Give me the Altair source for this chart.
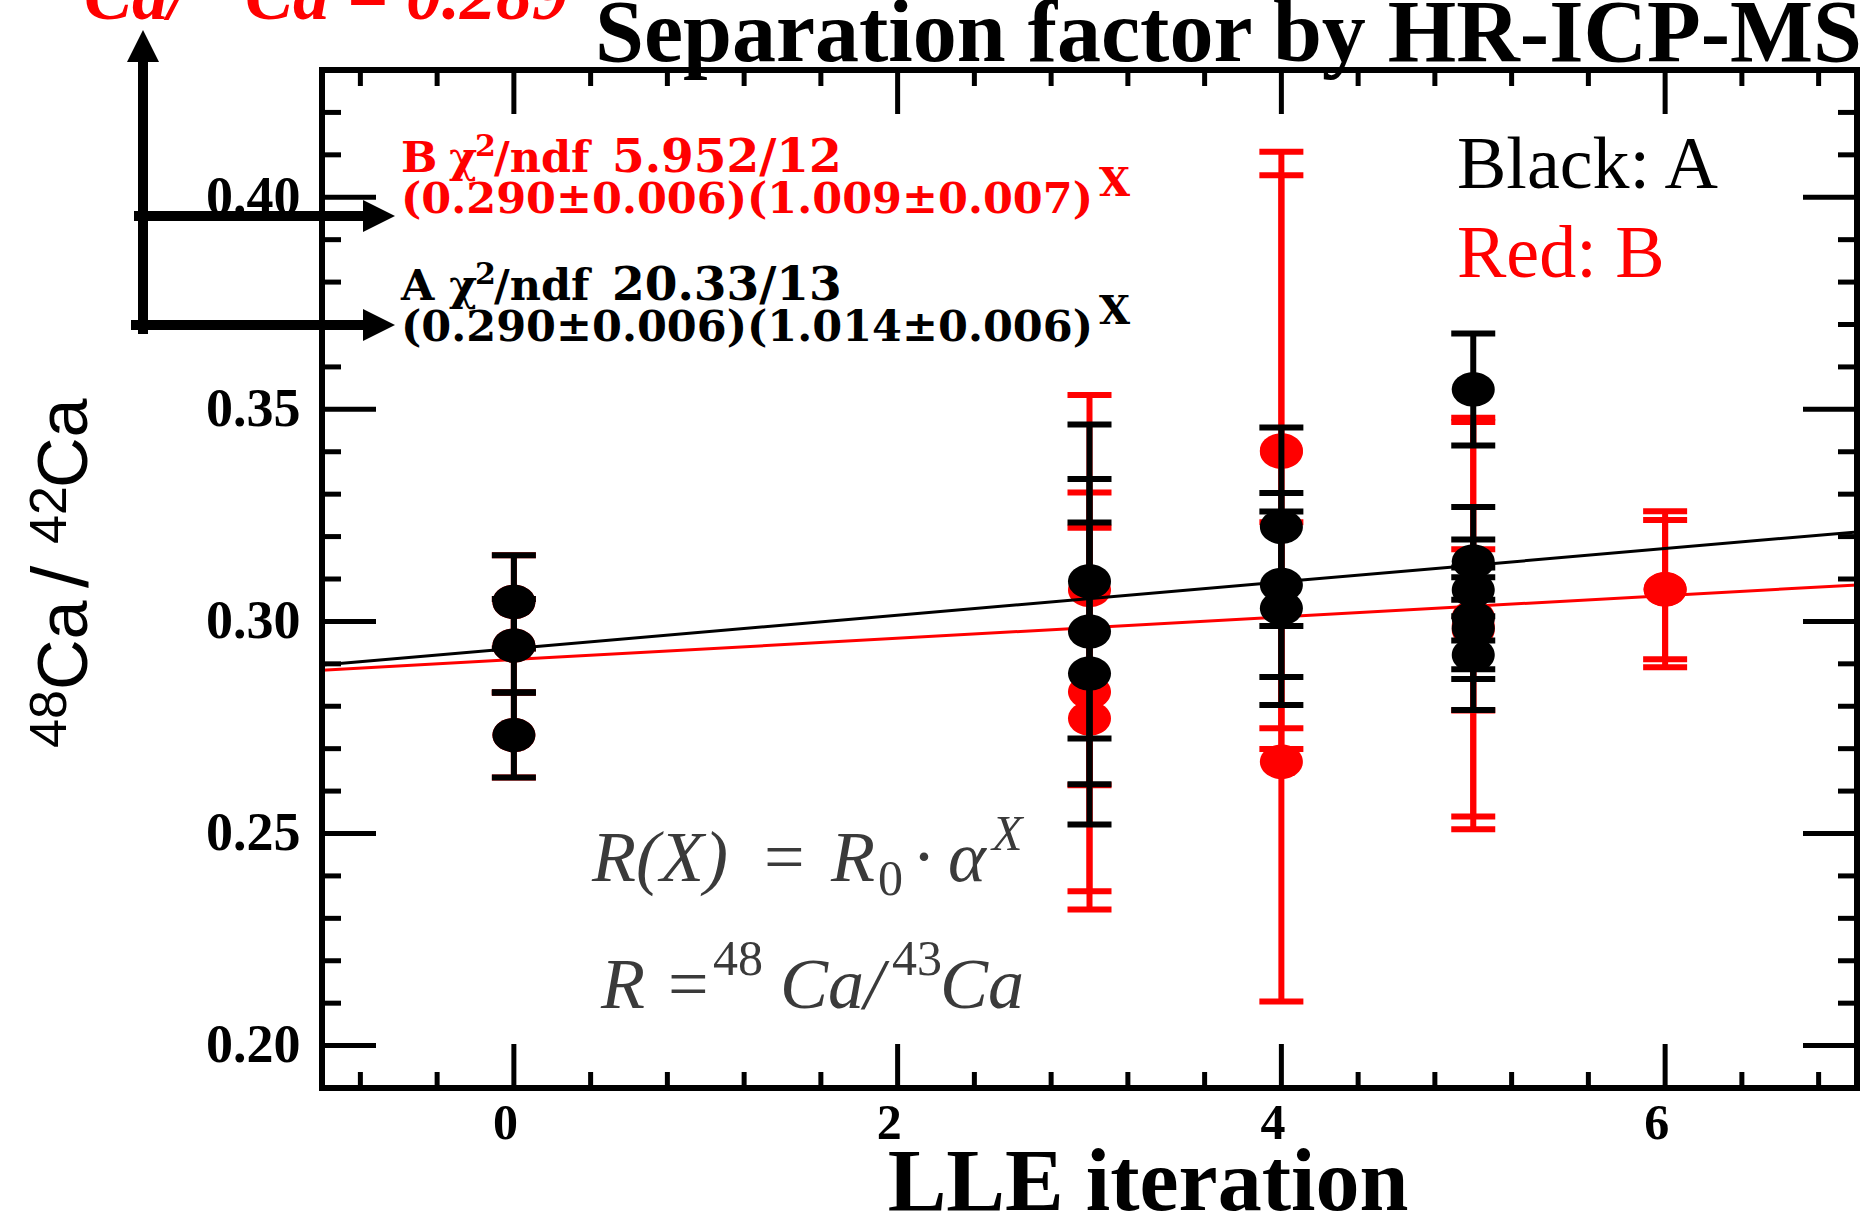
import altair as alt
import pandas as pd

# ---------------- data ----------------
# Series A (black)
a_x = [0, 0, 0, 3, 3, 3, 4, 4, 4, 5, 5, 5, 5, 5, 5]
a_y = [0.3046, 0.2943, 0.2732, 0.3094, 0.2976, 0.2877, 0.3223, 0.3086, 0.3031,
       0.3547, 0.3141, 0.3074, 0.3007, 0.2984, 0.2921]
a_err = [0.011, 0.011, 0.010, 0.037, 0.036, 0.0356, 0.0234, 0.0217, 0.0228,
         0.0132, 0.0129, 0.0119, 0.0120, 0.0120, 0.0130]

# Series B (red)
b_x = [0, 0, 0, 3, 3, 3, 4, 4, 4, 5, 5, 5, 6, 6]
b_y = [0.3046, 0.2943, 0.2732, 0.3074, 0.2834, 0.2771, 0.3403, 0.3400, 0.2669,
       0.3010, 0.2990, 0.2980, 0.3076, 0.3075]
b_err = [0.011, 0.011, 0.010, 0.046, 0.047, 0.045, 0.0704, 0.0652, 0.0565,
         0.047, 0.048, 0.019, 0.0184, 0.0164]

# fit curves (end points)
fit_x = [-1, 7]
fit_a = [0.2897, 0.3211]
fit_b = [0.2885, 0.3086]

# axis ticks
x_major = [0, 2, 4, 6]
x_minor = [-0.8, -0.4, 0.4, 0.8, 1.2, 1.6, 2.4, 2.8, 3.2, 3.6, 4.4, 4.8, 5.2, 5.6, 6.4, 6.8]
y_major = [0.20, 0.25, 0.30, 0.35, 0.40]
y_minor = [0.21, 0.22, 0.23, 0.24, 0.26, 0.27, 0.28, 0.29, 0.31, 0.32, 0.33, 0.34,
           0.36, 0.37, 0.38, 0.39, 0.41, 0.42]

# ---------------- layout ----------------
TOTAL_W, TOTAL_H = 1875, 1220
L, T, R, B = 322, 70, 1857, 1088
W, H = R - L, B - T

xs = alt.Scale(domain=[-1, 7], nice=False, zero=False)
ys = alt.Scale(domain=[0.19, 0.43], nice=False, zero=False)
xaxis = alt.Axis(values=x_major, title=None, domain=False, ticks=False, tickSize=0, grid=False,
                 labelFont="Liberation Serif", labelFontWeight="bold", labelFontSize=50,
                 labelColor="black", labelPadding=10, labelOffset=-9)
yaxis = alt.Axis(values=y_major, title=None, domain=False, ticks=False, tickSize=0, grid=False,
                 format=".2f", labelFont="Liberation Serif", labelFontWeight="bold",
                 labelFontSize=54, labelColor="black", labelPadding=22)


def X(field="x"):
    return alt.X(f"{field}:Q", scale=xs, axis=xaxis)


def Y(field="y"):
    return alt.Y(f"{field}:Q", scale=ys, axis=yaxis)


dfA = pd.DataFrame({"x": a_x, "y": a_y, "err": a_err})
dfA["lo"] = dfA["y"] - dfA["err"]
dfA["hi"] = dfA["y"] + dfA["err"]
dfB = pd.DataFrame({"x": b_x, "y": b_y, "err": b_err})
dfB["lo"] = dfB["y"] - dfB["err"]
dfB["hi"] = dfB["y"] + dfB["err"]
fitA = pd.DataFrame({"x": fit_x, "y": fit_a})
fitB = pd.DataFrame({"x": fit_x, "y": fit_b})

ELLIPSE = "M-1,0A1,0.8,0,1,0,1,0A1,0.8,0,1,0,-1,0Z"


def series(df, fit, color):
    bars = alt.Chart(df).mark_rule(color=color, strokeWidth=6).encode(x=X(), y=Y("lo"), y2="hi:Q")
    cap_hi = alt.Chart(df).mark_rule(color=color, strokeWidth=6, xOffset=-22, x2Offset=22).encode(
        x=X(), x2="x:Q", y=Y("hi"))
    cap_lo = alt.Chart(df).mark_rule(color=color, strokeWidth=6, xOffset=-22, x2Offset=22).encode(
        x=X(), x2="x:Q", y=Y("lo"))
    pts = alt.Chart(df).mark_point(shape=ELLIPSE, filled=True, size=1849, color=color,
                                   opacity=1).encode(x=X(), y=Y())
    line = alt.Chart(fit).mark_line(color=color, strokeWidth=3).encode(x=X(), y=Y())
    return [bars, cap_hi, cap_lo, line, pts]


# ---------------- frame & ticks ----------------
dx_major = pd.DataFrame({"x": x_major})
dx_minor = pd.DataFrame({"x": x_minor})
dy_major = pd.DataFrame({"y": y_major})
dy_minor = pd.DataFrame({"y": y_minor})

TW = 5
ticks = [
    alt.Chart(dx_major).mark_rule(color="black", strokeWidth=TW).encode(x=X(), y=alt.value(H), y2=alt.value(H - 44)),
    alt.Chart(dx_minor).mark_rule(color="black", strokeWidth=TW).encode(x=X(), y=alt.value(H), y2=alt.value(H - 16)),
    alt.Chart(dx_major).mark_rule(color="black", strokeWidth=TW).encode(x=X(), y=alt.value(0), y2=alt.value(44)),
    alt.Chart(dx_minor).mark_rule(color="black", strokeWidth=TW).encode(x=X(), y=alt.value(0), y2=alt.value(16)),
    alt.Chart(dy_major).mark_rule(color="black", strokeWidth=TW).encode(y=Y(), x=alt.value(0), x2=alt.value(54)),
    alt.Chart(dy_minor).mark_rule(color="black", strokeWidth=TW).encode(y=Y(), x=alt.value(0), x2=alt.value(19)),
    alt.Chart(dy_major).mark_rule(color="black", strokeWidth=TW).encode(y=Y(), x=alt.value(W), x2=alt.value(W - 54)),
    alt.Chart(dy_minor).mark_rule(color="black", strokeWidth=TW).encode(y=Y(), x=alt.value(W), x2=alt.value(W - 19)),
]

dummy = pd.DataFrame({"d": [0]})


def frame_rule(x1, y1, x2, y2, width=6, color="black"):
    return alt.Chart(dummy).mark_rule(color=color, strokeWidth=width, strokeCap="square").encode(
        x=alt.value(x1), y=alt.value(y1), x2=alt.value(x2), y2=alt.value(y2))


frame = [
    frame_rule(0, 0, 0, H), frame_rule(W, 0, W, H),
    frame_rule(0, 0, W, 0), frame_rule(0, H, W, H),
]


def txt(s, x, y, size, color="black", font="Liberation Serif", weight="normal",
        style="normal", align="left", angle=0, baseline="alphabetic"):
    props = dict(text=s, font=font, fontSize=size, fontWeight=weight, fontStyle=style,
                 color=color, align=align, baseline=baseline)
    if angle:
        props["angle"] = angle
    return alt.Chart(dummy).mark_text(**props).encode(x=alt.value(x - L), y=alt.value(y - T))


def fit_label(name, chi, params, color, y1, y2):
    f = "DejaVu Serif"
    return [
        txt(name, 401, y1, 43, color=color, font=f, weight="bold"),
        txt("\u03c7", 449, y1, 43, color=color, font=f, weight="bold"),
        txt("2", 475, y1 - 16, 30, color=color, font=f, weight="bold"),
        txt("/ndf", 494, y1, 43, color=color, font=f, weight="bold"),
        txt(chi, 612, y1, 47, color=color, font=f, weight="bold"),
        txt(params, 401, y2, 43, color=color, font=f, weight="bold"),
        txt("X", 1099, y2 - 17, 40, color=color, font=f, weight="bold"),
    ]


# ---------------- texts ----------------
GRAY = "#3a3a3a"
texts = [
    # title and axis title
    txt("Separation factor by HR-ICP-MS", 1862, 61, 88, weight="bold", align="right"),
    txt("LLE iteration", 1148, 1210, 88, weight="bold", align="center"),
    # clipped red text at the very top
    txt("Ca/", 84, 19, 72, color="red", weight="bold", style="italic"),
    txt("Ca = 0.289", 245, 19, 72, color="red", weight="bold", style="italic"),
    # y axis title (rotated)
    txt("48", 66, 748, 52, font="Liberation Sans", angle=270),
    txt("Ca", 87, 690, 70, font="Liberation Sans", angle=270),
    txt("/", 88, 588, 80, font="Liberation Sans", angle=270),
    txt("42", 66, 544, 52, font="Liberation Sans", angle=270),
    txt("Ca", 87, 488, 70, font="Liberation Sans", angle=270),
    # legend-like labels
    txt("Black: A", 1457, 188, 74, color="black"),
    txt("Red: B", 1457, 277, 74, color="red"),
    # formulas
    txt("R(X)", 592, 881, 72, color=GRAY, style="italic"),
    txt("=", 764, 881, 72, color=GRAY),
    txt("R", 831, 881, 72, color=GRAY, style="italic"),
    txt("0", 878, 895, 50, color=GRAY),
    txt("\u00b7", 912, 881, 72, color=GRAY),
    txt("\u03b1", 948, 881, 72, color=GRAY, style="italic"),
    txt("X", 992, 850, 50, color=GRAY, style="italic"),
    txt("R", 601, 1008, 72, color=GRAY, style="italic"),
    txt("=", 668, 1008, 72, color=GRAY),
    txt("48", 713, 975, 50, color=GRAY),
    txt("Ca/", 780, 1008, 72, color=GRAY, style="italic"),
    txt("43", 892, 975, 50, color=GRAY),
    txt("Ca", 940, 1008, 72, color=GRAY, style="italic"),
]
texts += fit_label("B", "5.952/12", "(0.290\u00b10.006)(1.009\u00b10.007)", "red", 172, 213)
texts += fit_label("A", "20.33/13", "(0.290\u00b10.006)(1.014\u00b10.006)", "black", 300, 341)

# ---------------- arrows ----------------
TRI_UP = "M0,-1L1,1L-1,1Z"
TRI_RIGHT = "M1,0L-1,-1L-1,1Z"


def arrow_head(shape, x, y, size=1024):
    return alt.Chart(dummy).mark_point(shape=shape, filled=True, size=size, color="black",
                                       opacity=1).encode(x=alt.value(x - L), y=alt.value(y - T))


arrows = [
    frame_rule(143 - L, 55 - T, 143 - L, 329 - T, width=10),
    frame_rule(139 - L, 216 - T, 368 - L, 216 - T, width=10),
    frame_rule(136 - L, 325 - T, 368 - L, 325 - T, width=10),
    arrow_head(TRI_UP, 143, 46),
    arrow_head(TRI_RIGHT, 379, 216),
    arrow_head(TRI_RIGHT, 379, 325),
]

layers = ticks + series(dfB, fitB, "red") + series(dfA, fitA, "black") + frame + texts + arrows

chart = alt.layer(*layers).properties(
    width=W,
    height=H,
    autosize=alt.AutoSizeParams(type="none"),
    padding={"left": L, "top": T, "right": TOTAL_W - R, "bottom": TOTAL_H - B},
    background="white",
).configure_view(stroke=None)

chart.save("out.html", embed_options={"renderer": "svg", "actions": False})
